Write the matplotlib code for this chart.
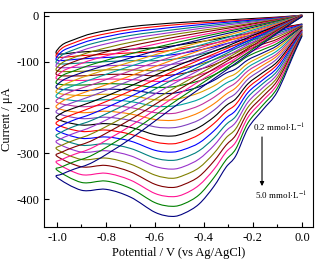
import matplotlib
matplotlib.use("Agg")
import matplotlib.pyplot as plt
from matplotlib.ticker import MultipleLocator
from matplotlib.path import Path
from matplotlib.patches import PathPatch

plt.rcParams['font.family'] = ['Liberation Serif', 'DejaVu Serif']
plt.rcParams['mathtext.fontset'] = 'stix'

# concentrations, mmol/L
conc = [0.2, 0.4, 0.6, 0.8, 1.0, 1.2, 1.4, 1.6, 1.8, 2.0, 2.2, 2.4, 2.6,
        2.8, 3.0, 3.2, 3.4, 3.6, 3.8, 4.0, 4.2, 4.4, 4.6, 4.8, 5.0]

# forward (cathodic) scan potentials, V
fwd_pot = [0.0, -0.03, -0.1, -0.16, -0.22, -0.27, -0.31, -0.36, -0.42, -0.48,
           -0.53, -0.6, -0.7, -0.8, -0.9, -1.0]
# current (uA) of each curve (0.2 ... 5.0 mmol/L) at each forward potential
f00 = [-18,-19,-19,-20,-21,-22,-23,-24,-24,-25,-27,-28,-29,-30,-31,-32,-33,-35,-36,-37,-39,-40,-42,-43,-45]
f01 = [-21,-22,-24,-26,-27,-29,-31,-33,-35,-37,-40,-42,-44,-47,-49,-52,-55,-58,-61,-64,-67,-70,-73,-77,-80]
f02 = [-27,-30,-34,-38,-42,-46,-51,-55,-60,-65,-70,-76,-82,-87,-93,-100,-106,-113,-120,-127,-134,-141,-149,-157,-165]
f03 = [-33,-37,-42,-47,-52,-57,-62,-68,-74,-81,-87,-94,-101,-108,-116,-124,-132,-140,-148,-157,-166,-176,-185,-195,-205]
f04 = [-39,-44,-50,-55,-61,-68,-74,-81,-88,-96,-104,-112,-120,-129,-138,-148,-157,-167,-177,-188,-199,-210,-221,-233,-245]
f05 = [-43,-50,-56,-64,-71,-79,-88,-97,-106,-116,-126,-136,-146,-157,-169,-181,-193,-206,-219,-232,-246,-260,-275,-290,-305]
f06 = [-47,-54,-61,-69,-78,-86,-95,-105,-115,-125,-136,-147,-159,-171,-183,-196,-209,-223,-237,-251,-266,-282,-297,-314,-330]
f07 = [-52,-60,-68,-77,-87,-96,-107,-118,-129,-141,-153,-165,-178,-192,-206,-221,-235,-251,-267,-283,-300,-317,-335,-353,-372]
f08 = [-57,-66,-75,-85,-95,-106,-117,-129,-142,-155,-168,-182,-196,-211,-227,-243,-259,-277,-294,-312,-331,-350,-369,-390,-410]
f09 = [-62,-71,-81,-91,-102,-113,-125,-137,-150,-164,-178,-192,-207,-223,-239,-256,-273,-291,-309,-328,-347,-367,-388,-409,-430]
f10 = [-66,-75,-85,-95,-106,-118,-129,-142,-155,-169,-183,-197,-213,-228,-244,-262,-279,-297,-315,-334,-354,-374,-394,-415,-437]
f11 = [-70,-79,-88,-98,-109,-120,-131,-143,-156,-169,-183,-197,-211,-226,-242,-259,-275,-293,-310,-328,-347,-367,-387,-407,-428]
f12 = [-73,-81,-89,-98,-108,-118,-128,-139,-150,-162,-174,-187,-200,-214,-228,-243,-258,-273,-289,-305,-323,-340,-358,-376,-395]
f13 = [-76,-84,-91,-100,-109,-118,-128,-138,-148,-160,-171,-183,-195,-208,-221,-235,-249,-264,-279,-294,-310,-326,-343,-360,-378]
f14 = [-79,-87,-94,-103,-112,-121,-131,-141,-151,-163,-174,-186,-198,-211,-224,-238,-252,-267,-282,-297,-313,-329,-346,-363,-380]
f15 = [-83,-90,-97,-104,-112,-120,-129,-138,-148,-158,-168,-178,-189,-201,-212,-225,-237,-250,-264,-277,-291,-306,-321,-336,-352]
fwd_cur = [f00, f01, f02, f03, f04, f05, f06, f07, f08, f09, f10, f11, f12, f13, f14, f15]

# reverse (anodic) scan potentials, V (starts where the forward scan ended)
rev_pot = [-0.98, -0.93, -0.85, -0.7, -0.5, -0.3, -0.1, 0.0]
r01 = [-64,-71,-78,-86,-94,-103,-112,-122,-131,-142,-153,-163,-175,-187,-199,-212,-225,-239,-253,-267,-282,-297,-313,-329,-345]
r02 = [-52,-59,-66,-74,-82,-91,-100,-110,-120,-130,-141,-152,-163,-175,-188,-201,-214,-227,-241,-256,-271,-286,-302,-318,-334]
r03 = [-38,-45,-52,-60,-68,-77,-86,-95,-105,-116,-126,-137,-149,-160,-173,-186,-198,-212,-226,-240,-255,-270,-286,-302,-318]
r04 = [-24,-30,-36,-43,-50,-58,-66,-74,-83,-92,-101,-110,-120,-131,-141,-153,-164,-176,-188,-200,-213,-226,-240,-254,-268]
r05 = [-15,-19,-24,-29,-34,-39,-45,-51,-57,-63,-70,-77,-84,-91,-99,-107,-115,-124,-132,-141,-151,-160,-170,-180,-190]
r06 = [-9,-12,-14,-17,-20,-24,-27,-31,-34,-38,-42,-47,-51,-55,-60,-65,-70,-75,-80,-86,-91,-97,-103,-109,-115]
r07 = [-3,-4,-5,-6,-7,-8,-9,-10,-11,-13,-14,-15,-17,-18,-20,-21,-23,-25,-26,-28,-30,-32,-34,-36,-38]
r08 = [1,1,1,1,1,1,0,0,0,0,0,0,0,0,0,0,0,-1,-1,-1,-1,-1,-2,-2,-2]
rev_cur = [r01, r02, r03, r04, r05, r06, r07, r08]

colors = ['#000000', '#ff0000', '#0000ff', '#008080', '#9933cc', '#808000',
          '#800000', '#ff1493', '#008000', '#000080', '#e0a000', '#00a0a0',
          '#c0309f', '#ff8000', '#8040c0']


def smooth_path(xs, ys):
    """Catmull-Rom curve through the given points, as cubic Bezier segments."""
    pts = list(zip(xs, ys))
    n = len(pts)
    verts = [pts[0]]
    codes = [Path.MOVETO]
    for k in range(n - 1):
        p0 = pts[k - 1] if k > 0 else pts[k]
        p1 = pts[k]
        p2 = pts[k + 1]
        p3 = pts[k + 2] if k + 2 < n else pts[k + 1]
        c1 = (p1[0] + (p2[0] - p0[0]) / 6.0, p1[1] + (p2[1] - p0[1]) / 6.0)
        c2 = (p2[0] - (p3[0] - p1[0]) / 6.0, p2[1] - (p3[1] - p1[1]) / 6.0)
        verts += [c1, c2, p2]
        codes += [Path.CURVE4] * 3
    return Path(verts, codes)


fig = plt.figure(figsize=(3.2, 2.59), dpi=100)
ax = fig.add_axes([0.1375, 0.1236, 0.8405, 0.830])

for i in range(len(conc)):
    xs = fwd_pot + rev_pot
    ys = [arr[i] for arr in fwd_cur] + [arr[i] for arr in rev_cur]
    patch = PathPatch(smooth_path(xs, ys), fill=False,
                      edgecolor=colors[i % len(colors)], lw=0.8,
                      joinstyle='round', capstyle='round')
    ax.add_patch(patch)

ax.set_xlim(-1.053, 0.045)
ax.set_ylim(-460, 8)
ax.set_xticks([-1.0, -0.8, -0.6, -0.4, -0.2, 0.0])
ax.set_xticklabels(['-1.0', '-0.8', '-0.6', '-0.4', '-0.2', '0.0'])
ax.xaxis.set_minor_locator(MultipleLocator(0.1))
ax.set_yticks([0, -100, -200, -300, -400])
ax.set_yticklabels(['0', '-100', '-200', '-300', '-400'])
ax.tick_params(which='both', direction='in', labelsize=9, top=False, right=False)
ax.tick_params(which='major', length=3.5, width=0.8)
ax.tick_params(which='minor', length=2, width=0.8)
for s in ax.spines.values():
    s.set_linewidth(0.8)

ax.set_xlabel('Potential / V (vs Ag/AgCl)', fontsize=9, labelpad=2)
ax.set_ylabel('Current / μA', fontsize=9, labelpad=2)

ax.text(-0.094, -245, '0.2 mmol·L$^{-1}$', fontsize=6.5, ha='center', va='center')
ax.text(-0.086, -392, '5.0 mmol·L$^{-1}$', fontsize=6.5, ha='center', va='center')
ax.annotate('', xy=(-0.163, -371), xytext=(-0.163, -264),
            arrowprops=dict(arrowstyle='-|>', color='black', lw=0.8,
                            mutation_scale=6, shrinkA=0, shrinkB=0))

fig.savefig('out.png', dpi=100)
